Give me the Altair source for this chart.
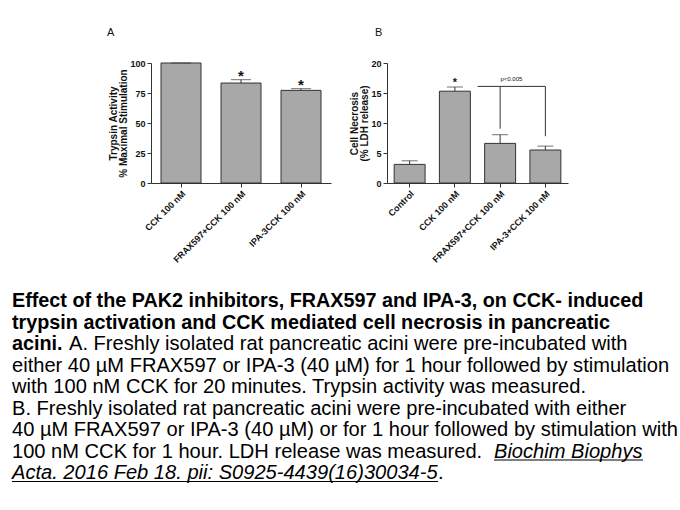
import altair as alt
import pandas as pd

FONT = "Liberation Sans"
DARK = "#333333"
BAR_FILL = "#a8a8a8"

# ---------------- Panel A: trypsin activity ----------------
a_cats = ["CCK 100 nM", "FRAX597+CCK 100 nM", "IPA-3CCK 100 nM"]
a_vals = [100.0, 83.3, 77.2]
a_err = [0.0, 2.8, 1.4]
a_sig = ["", "*", "*"]
a_ticks = [0, 25, 50, 75, 100]
a_title = ["Trypsin Activity", "% Maximal Stimulation"]

# ---------------- Panel B: cell necrosis ----------------
b_cats = ["Control", "CCK 100 nM", "FRAX597+CCK 100 nM", "IPA-3+CCK 100 nM"]
b_vals = [3.1, 15.3, 6.6, 5.5]
b_err = [0.6, 0.7, 1.45, 0.65]
b_sig = ["", "*", "", ""]
b_ticks = [0, 5, 10, 15, 20]
b_title = ["Cell Necrosis", "(% LDH release)"]
b_bracket_top = [16.1, 16.1]
b_bracket_end = [9.05, 7.8]
b_p_label = "p<0.005"

panel_letters = ["A", "B"]

# ---------------- Caption ----------------
caption_text = [
    "Effect of the PAK2 inhibitors, FRAX597 and IPA-3, on CCK- induced",
    "trypsin activation and CCK mediated cell necrosis in pancreatic",
    "acini.",
    "A. Freshly isolated rat pancreatic acini were pre-incubated with",
    "either 40 \u00b5M FRAX597 or IPA-3 (40 \u00b5M) for 1 hour followed by stimulation",
    "with 100 nM CCK for 20 minutes. Trypsin activity was measured.",
    "B. Freshly isolated rat pancreatic acini were pre-incubated with either",
    "40 \u00b5M FRAX597 or IPA-3 (40 \u00b5M) or for 1 hour followed by stimulation with",
    "100 nM CCK for 1 hour. LDH release was measured.",
    "Biochim Biophys",
    "Acta. 2016 Feb 18. pii: S0925-4439(16)30034-5",
    ".",
]
caption_line = [0, 1, 2, 2, 3, 4, 5, 6, 7, 7, 8, 8]
caption_style = ["bold", "bold", "bold", "normal", "normal", "normal", "normal",
                 "normal", "normal", "italic", "italic", "normal"]
caption_seg = [0, 0, 0, 1, 0, 0, 0, 0, 0, 1, 0, 1]


def axis_common(**kw):
    return alt.Axis(
        domainColor=DARK, tickColor=DARK, tickSize=4, grid=False,
        labelFont=FONT, labelFontWeight="bold", labelFontSize=9, labelColor="#111111",
        titleFont=FONT, titleFontWeight="bold", titleFontSize=10, titleColor="#111111",
        **kw,
    )


def make_defs(cats, ticks, ymax, ytitle, pad_in, pad_out):
    xscale = alt.Scale(domain=cats, paddingInner=pad_in, paddingOuter=pad_out)
    xaxis = axis_common(labelAngle=-45, labelPadding=2)
    yscale = alt.Scale(domain=[0, ymax], nice=False)
    yaxis = axis_common(values=ticks, labelPadding=2, titlePadding=1,
                        titleLineHeight=10.5, labelOverlap=False)

    def xdef(field, **kw):
        return alt.X(field, title=None, scale=xscale, axis=xaxis, **kw)

    def ydef(field):
        return alt.Y(field, title=ytitle, scale=yscale, axis=yaxis)

    return xdef, ydef


def panel(cats, vals, errs, sigs, xdef, ydef, cap_w, sig_size, sig_dy):
    df = pd.DataFrame({"cat": cats, "val": vals, "err": errs, "sig": sigs})
    base = alt.Chart(df).transform_calculate(up="datum.val + datum.err")
    bars = base.mark_bar(fill=BAR_FILL, stroke=DARK, strokeWidth=1).encode(
        x=xdef("cat:N"), y=ydef("val:Q"))
    stem = base.mark_rule(color=DARK, strokeWidth=1).encode(
        x=xdef("cat:N"), y=ydef("val:Q"), y2="up:Q")
    cap = base.mark_tick(color=DARK, thickness=1, size=cap_w).encode(
        x=xdef("cat:N"), y=ydef("up:Q"))
    sig = base.mark_text(font=FONT, fontWeight="bold", fontSize=sig_size, dy=sig_dy,
                         color="#111111").encode(
        x=xdef("cat:N"), y=ydef("up:Q"), text="sig:N")
    return [bars, stem, cap, sig]


def letter_layer(letter, dx):
    return alt.Chart(pd.DataFrame({"t": [letter]})).mark_text(
        font=FONT, fontSize=11, align="left", baseline="alphabetic",
        color="#111111").encode(x=alt.value(dx), y=alt.value(-27), text="t:N")


xa, ya = make_defs(a_cats, a_ticks, 100, a_title, 1 / 3, 1 / 6)
a_layers = panel(a_cats, a_vals, a_err, a_sig, xa, ya, 20, 15, -4)
chart_a = alt.layer(*a_layers, letter_layer(panel_letters[0], -44)).properties(
    width=180, height=120)

xb, yb = make_defs(b_cats, b_ticks, 20, b_title, 0.316, 0.158)
b_layers = panel(b_cats, b_vals, b_err, b_sig, xb, yb, 16, 11, -4)

br_df = pd.DataFrame({"cat": b_cats[2:], "top": b_bracket_top, "end": b_bracket_end})
drops = alt.Chart(br_df).mark_rule(color=DARK, strokeWidth=1).encode(
    x=xb("cat:N"), y=yb("top:Q"), y2="end:Q")
bridge = alt.Chart(br_df).transform_aggregate(top="max(top)").transform_calculate(
    a="'" + b_cats[2] + "'", b="'" + b_cats[3] + "'").mark_rule(
    color=DARK, strokeWidth=1, xOffset=-7).encode(
    x=xb("a:N", bandPosition=0),
    x2=alt.X2("b:N", bandPosition=0.5),
    y=yb("top:Q"))
plab = alt.Chart(pd.DataFrame({"cat": [b_cats[3]], "top": [b_bracket_top[0]],
                               "t": [b_p_label]})).mark_text(
    font=FONT, fontSize=6, dx=-34, dy=-7, color="#111111").encode(
    x=xb("cat:N"), y=yb("top:Q"), text="t:N")

chart_b = alt.layer(*b_layers, drops, bridge, plab,
                    letter_layer(panel_letters[1], -12)).properties(
    width=181, height=120)

top_row = alt.hconcat(chart_a, chart_b, spacing=56, bounds="flush")

# caption
cap_df = pd.DataFrame({"line": caption_line, "text": caption_text,
                       "style": caption_style, "seg": caption_seg})
X0 = -139
LINE_H = 21.5
BOLD_SIZE = 19.8
REG_SIZE = 20.1
ysc = alt.Y("line:Q", axis=None,
            scale=alt.Scale(domain=[0, 8], range=[22, 22 + 8 * LINE_H]))
cbase = alt.Chart(cap_df)


def seg_layer(style, seg, offset, size, weight="normal", italic=False, line=None):
    cond = (alt.datum.style == style) & (alt.datum.seg == seg)
    if line is not None:
        cond = cond & (alt.datum.line == line)
    kw = dict(font=FONT, fontSize=size, fontWeight=weight, align="left",
              baseline="alphabetic", color="#000000")
    if italic:
        kw["fontStyle"] = "italic"
    return cbase.transform_filter(cond).mark_text(**kw).encode(
        x=alt.value(X0 + offset), y=ysc, text="text:N")


OFF_ACINI = 57
OFF_BIOCHIM = 482
END_BIOCHIM = 631
OFF_DOT = 426

cap_layers = [
    seg_layer("bold", 0, 0, BOLD_SIZE, "bold"),
    seg_layer("normal", 0, 0, REG_SIZE),
    seg_layer("normal", 1, OFF_ACINI, REG_SIZE, line=2),
    seg_layer("italic", 1, OFF_BIOCHIM, REG_SIZE, italic=True),
    seg_layer("italic", 0, 0, REG_SIZE, italic=True),
    seg_layer("normal", 1, OFF_DOT, REG_SIZE, line=8),
]
ul1 = cbase.transform_filter(alt.datum.style == "italic").transform_filter(
    alt.datum.line == 7).mark_rule(color="#000000", strokeWidth=1.2, yOffset=2.5).encode(
    x=alt.value(X0 + OFF_BIOCHIM), x2=alt.value(X0 + END_BIOCHIM), y=ysc)
ul2 = cbase.transform_filter(alt.datum.style == "italic").transform_filter(
    alt.datum.line == 8).mark_rule(color="#000000", strokeWidth=1.2, yOffset=2.5).encode(
    x=alt.value(X0), x2=alt.value(X0 + OFF_DOT), y=ysc)

caption = alt.layer(*cap_layers, ul1, ul2).properties(width=417, height=200)

chart = alt.vconcat(top_row, caption, spacing=222, bounds="flush").properties(
    padding={"left": 11, "top": 27, "right": 0, "bottom": 0},
    background="white",
).configure_view(strokeWidth=0)

chart.save("out.html", embed_options={"renderer": "svg", "actions": False})
